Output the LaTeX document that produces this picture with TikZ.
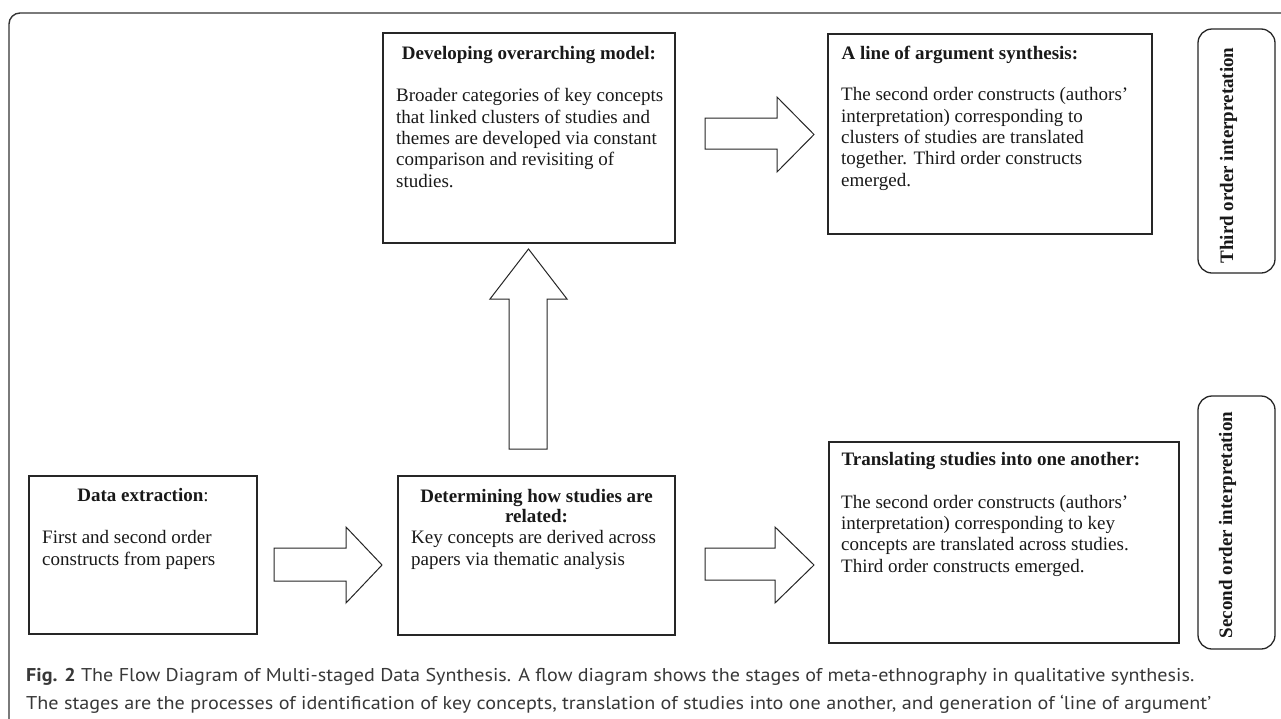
\documentclass[tikz,border=0pt]{standalone}
\usepackage{fontspec}
\setmainfont{Liberation Serif}
\newfontfamily\capfont{PT Sans}
\usepackage{graphicx}
\begin{document}
\begin{tikzpicture}[x=1pt,y=-1pt,
  box/.style={draw=black!85, line width=1.2pt, inner sep=0pt, fill=white},
  lbl/.style={draw=black!85, line width=1.3pt, inner sep=0pt, rounded corners=14pt},
  txt/.style={font=\fontsize{19}{21.3}\selectfont, inner sep=0pt, align=left, anchor=base west, text=black!90},
  ttl/.style={font=\fontsize{19}{21.3}\selectfont\bfseries, inner sep=0pt, anchor=base, text=black!90},
  side/.style={font=\fontsize{19}{21.3}\selectfont\bfseries, inner sep=0pt, anchor=base, rotate=90, text=black!90},
  blk/.style={draw=black!85, line width=1pt, fill=white, line join=miter},
  captxt/.style={font=\capfont\fontsize{18.5}{28}\selectfont, inner sep=0pt, anchor=base west, text=black!78}]
\useasboundingbox (0,0) rectangle (1281,718);
\fill[white] (0,0) rectangle (1281,718);
% outer frame
\begin{scope}
\clip (0,0) rectangle (1281,718);
\draw[line width=1.4pt, draw=black!80, rounded corners=11pt] (9,760) -- (9,13) -- (1320,13);
\end{scope}
% boxes
\node[box, minimum width=292pt, minimum height=210pt] (dev) at (529,138) {};
\node[box, minimum width=324pt, minimum height=200pt] (line) at (990,134) {};
\node[box, minimum width=228pt, minimum height=158pt] (data) at (143,555) {};
\node[box, minimum width=277pt, minimum height=159pt] (det) at (536.5,555.5) {};
\node[box, minimum width=350pt, minimum height=201pt] (trans) at (1004,542.5) {};
\node[lbl, minimum width=77pt, minimum height=244pt] (third) at (1236.5,151) {};
\node[lbl, minimum width=77pt, minimum height=253pt] (second) at (1236.5,522.5) {};
% side labels
\node[side] (thirdtxt) at (1233,155.5) {Third order interpretation};
\node[side] (secondtxt) at (1232,525) {Second order interpretation};
% titles
\node[ttl] (devt) at (529,59) {Developing overarching model:};
\node[ttl, anchor=base west] (linet) at (841.5,59) {A line of argument synthesis:};
\node[ttl] (datat) at (143,501) {Data extraction\mdseries:};
\node[ttl] (dett1) at (536.5,502) {Determining how studies are};
\node[ttl] (dett2) at (536.5,522) {related:};
\node[ttl, anchor=base west] (transt) at (841.5,465) {Translating studies into one another:};
% bodies (base anchor = baseline of the last line)
\node[txt] (devb) at (396,187) {Broader categories of key concepts\\that linked clusters of studies and\\themes are developed via constant\\comparison and revisiting of\\studies.};
\node[txt] (lineb) at (841,186) {The second order constructs (authors’\\interpretation) corresponding to\\clusters of studies are translated\\together. Third order constructs\\emerged.};
\node[txt, font=\fontsize{19}{22}\selectfont] (datab) at (42,565) {First and second order\\constructs from papers};
\node[txt, font=\fontsize{19}{22}\selectfont] (detb) at (411,565) {Key concepts are derived across\\papers via thematic analysis};
\node[txt] (transb) at (841,572) {The second order constructs (authors’\\interpretation) corresponding to key\\concepts are translated across studies.\\Third order constructs emerged.};
% block arrows
\draw[blk] (274,548) -- (346,548) -- (346,527) -- (382,565) -- (346,603) -- (346,581) -- (274,581) -- cycle;
\draw[blk] (705,548) -- (775,548) -- (775,527) -- (814,565) -- (775,603) -- (775,580) -- (705,580) -- cycle;
\draw[blk] (705,118) -- (777,118) -- (777,97) -- (814,134.5) -- (777,172) -- (777,149) -- (705,149) -- cycle;
\draw[blk] (509,449) -- (509,299) -- (490,299) -- (528.5,249) -- (567,299) -- (547,299) -- (547,449) -- cycle;
% caption
\node[captxt] (cap1) at (26,681) {\resizebox{1168pt}{\height}{\textbf{Fig. 2} The Flow Diagram of Multi-staged Data Synthesis. A flow diagram shows the stages of meta-ethnography in qualitative synthesis.}};
\node[captxt] (cap2) at (26,709) {\resizebox{1185pt}{\height}{The stages are the processes of identification of key concepts, translation of studies into one another, and generation of ‘line of argument’}};
\end{tikzpicture}
\end{document}
